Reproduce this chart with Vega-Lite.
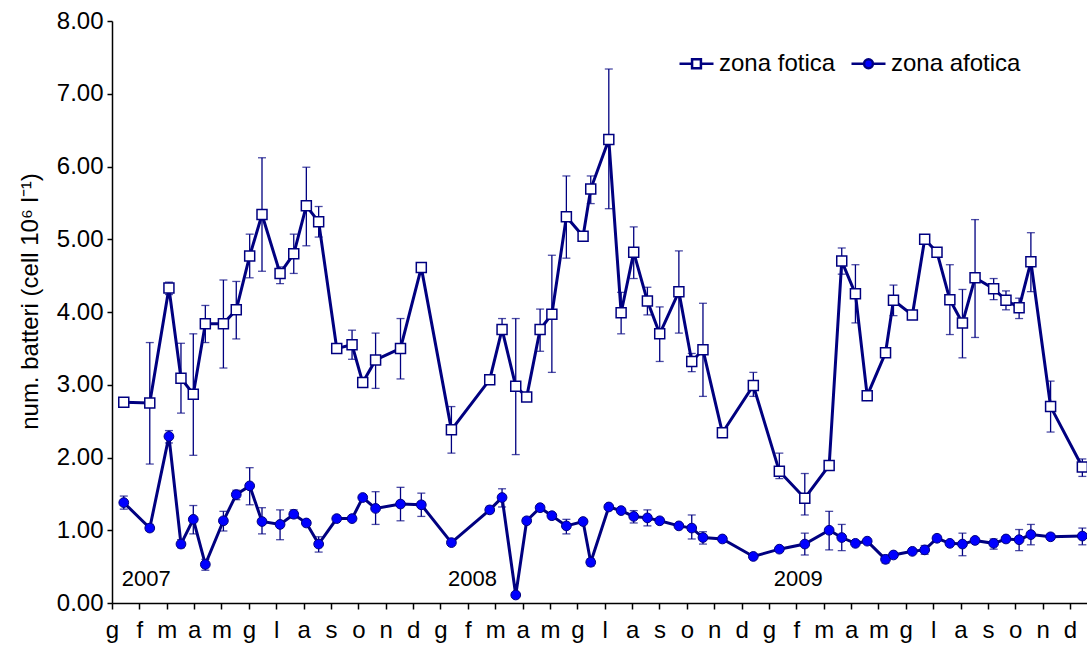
{
  "$schema": "https://vega.github.io/schema/vega-lite/v6.json",
  "autosize": {"type": "none"},
  "padding": {"left": 112, "top": 21, "right": 0, "bottom": 42},
  "width": 975,
  "height": 582,
  "background": "white",
  "config": {
    "font": "Liberation Sans",
    "view": {"stroke": null},
    "axis": {"grid": false, "domainColor": "black", "domainWidth": 1.5, "tickColor": "black", "tickWidth": 1.5, "labelColor": "black", "labelFontSize": 24, "titleColor": "black", "titleFontWeight": "normal", "titleFontSize": 24, "labelFont": "Liberation Sans", "titleFont": "Liberation Sans"}
  },
  "datasets": {
    "punti": [
      {"zona": "zona fotica", "mese": 0.43, "valore": 2.76},
      {"zona": "zona fotica", "mese": 1.38, "valore": 2.75, "min": 1.91, "max": 3.58},
      {"zona": "zona fotica", "mese": 2.08, "valore": 4.33, "min": 4.24, "max": 4.41},
      {"zona": "zona fotica", "mese": 2.52, "valore": 3.09, "min": 2.61, "max": 3.57},
      {"zona": "zona fotica", "mese": 2.97, "valore": 2.87, "min": 2.03, "max": 3.70},
      {"zona": "zona fotica", "mese": 3.41, "valore": 3.84, "min": 3.58, "max": 4.09},
      {"zona": "zona fotica", "mese": 4.07, "valore": 3.84, "min": 3.23, "max": 4.44},
      {"zona": "zona fotica", "mese": 4.54, "valore": 4.03, "min": 3.63, "max": 4.42},
      {"zona": "zona fotica", "mese": 5.03, "valore": 4.77, "min": 4.47, "max": 5.07},
      {"zona": "zona fotica", "mese": 5.48, "valore": 5.34, "min": 4.56, "max": 6.12},
      {"zona": "zona fotica", "mese": 6.14, "valore": 4.53, "min": 4.39, "max": 4.62},
      {"zona": "zona fotica", "mese": 6.64, "valore": 4.80, "min": 4.53, "max": 5.07},
      {"zona": "zona fotica", "mese": 7.10, "valore": 5.46, "min": 4.91, "max": 5.99},
      {"zona": "zona fotica", "mese": 7.55, "valore": 5.24, "min": 5.03, "max": 5.45},
      {"zona": "zona fotica", "mese": 8.21, "valore": 3.50, "min": 3.46, "max": 3.54},
      {"zona": "zona fotica", "mese": 8.77, "valore": 3.55, "min": 3.35, "max": 3.75},
      {"zona": "zona fotica", "mese": 9.16, "valore": 3.03},
      {"zona": "zona fotica", "mese": 9.63, "valore": 3.34, "min": 2.95, "max": 3.71},
      {"zona": "zona fotica", "mese": 10.54, "valore": 3.50, "min": 3.08, "max": 3.91},
      {"zona": "zona fotica", "mese": 11.30, "valore": 4.61},
      {"zona": "zona fotica", "mese": 12.40, "valore": 2.38, "min": 2.06, "max": 2.70},
      {"zona": "zona fotica", "mese": 13.80, "valore": 3.07, "min": 3.03, "max": 3.11},
      {"zona": "zona fotica", "mese": 14.25, "valore": 3.76, "min": 3.72, "max": 3.91},
      {"zona": "zona fotica", "mese": 14.75, "valore": 2.98, "min": 2.04, "max": 3.91},
      {"zona": "zona fotica", "mese": 15.15, "valore": 2.83},
      {"zona": "zona fotica", "mese": 15.64, "valore": 3.76, "min": 3.46, "max": 4.04},
      {"zona": "zona fotica", "mese": 16.07, "valore": 3.97, "min": 3.17, "max": 4.78},
      {"zona": "zona fotica", "mese": 16.60, "valore": 5.31, "min": 4.74, "max": 5.87},
      {"zona": "zona fotica", "mese": 17.21, "valore": 5.04},
      {"zona": "zona fotica", "mese": 17.49, "valore": 5.69, "min": 5.49, "max": 5.87},
      {"zona": "zona fotica", "mese": 18.15, "valore": 6.37, "min": 5.42, "max": 7.34},
      {"zona": "zona fotica", "mese": 18.60, "valore": 3.99, "min": 3.70, "max": 4.27},
      {"zona": "zona fotica", "mese": 19.06, "valore": 4.82, "min": 4.46, "max": 5.17},
      {"zona": "zona fotica", "mese": 19.56, "valore": 4.15, "min": 3.96, "max": 4.34},
      {"zona": "zona fotica", "mese": 20.01, "valore": 3.70, "min": 3.32, "max": 4.07},
      {"zona": "zona fotica", "mese": 20.71, "valore": 4.28, "min": 3.71, "max": 4.84},
      {"zona": "zona fotica", "mese": 21.18, "valore": 3.32, "min": 3.18, "max": 3.43},
      {"zona": "zona fotica", "mese": 21.59, "valore": 3.48, "min": 2.84, "max": 4.12},
      {"zona": "zona fotica", "mese": 22.30, "valore": 2.34, "min": 2.30, "max": 2.38},
      {"zona": "zona fotica", "mese": 23.43, "valore": 2.99, "min": 2.84, "max": 3.17},
      {"zona": "zona fotica", "mese": 24.38, "valore": 1.81, "min": 1.71, "max": 2.06},
      {"zona": "zona fotica", "mese": 25.31, "valore": 1.44, "min": 1.21, "max": 1.78},
      {"zona": "zona fotica", "mese": 26.20, "valore": 1.89},
      {"zona": "zona fotica", "mese": 26.66, "valore": 4.70, "min": 4.52, "max": 4.88},
      {"zona": "zona fotica", "mese": 27.16, "valore": 4.25, "min": 3.85, "max": 4.65},
      {"zona": "zona fotica", "mese": 27.59, "valore": 2.85, "min": 2.81, "max": 2.89},
      {"zona": "zona fotica", "mese": 28.26, "valore": 3.44},
      {"zona": "zona fotica", "mese": 28.55, "valore": 4.16, "min": 3.95, "max": 4.37},
      {"zona": "zona fotica", "mese": 29.24, "valore": 3.96, "min": 3.91, "max": 4.01},
      {"zona": "zona fotica", "mese": 29.69, "valore": 5.00},
      {"zona": "zona fotica", "mese": 30.14, "valore": 4.82},
      {"zona": "zona fotica", "mese": 30.61, "valore": 4.17, "min": 3.69, "max": 4.65},
      {"zona": "zona fotica", "mese": 31.07, "valore": 3.85, "min": 3.37, "max": 4.31},
      {"zona": "zona fotica", "mese": 31.53, "valore": 4.47, "min": 3.65, "max": 5.27},
      {"zona": "zona fotica", "mese": 32.21, "valore": 4.32, "min": 4.17, "max": 4.46},
      {"zona": "zona fotica", "mese": 32.66, "valore": 4.16, "min": 4.03, "max": 4.29},
      {"zona": "zona fotica", "mese": 33.14, "valore": 4.06, "min": 3.91, "max": 4.19},
      {"zona": "zona fotica", "mese": 33.57, "valore": 4.69, "min": 4.28, "max": 5.09},
      {"zona": "zona fotica", "mese": 34.29, "valore": 2.70, "min": 2.35, "max": 3.05},
      {"zona": "zona fotica", "mese": 35.45, "valore": 1.87, "min": 1.74, "max": 1.98},
      {"zona": "zona afotica", "mese": 0.43, "valore": 1.38, "min": 1.29, "max": 1.47},
      {"zona": "zona afotica", "mese": 1.38, "valore": 1.03, "min": 0.99, "max": 1.08},
      {"zona": "zona afotica", "mese": 2.08, "valore": 2.29, "min": 2.20, "max": 2.37},
      {"zona": "zona afotica", "mese": 2.52, "valore": 0.81, "min": 0.76, "max": 0.87},
      {"zona": "zona afotica", "mese": 2.97, "valore": 1.15, "min": 0.95, "max": 1.34},
      {"zona": "zona afotica", "mese": 3.41, "valore": 0.53, "min": 0.45, "max": 0.60},
      {"zona": "zona afotica", "mese": 4.07, "valore": 1.13, "min": 0.99, "max": 1.26},
      {"zona": "zona afotica", "mese": 4.54, "valore": 1.49, "min": 1.42, "max": 1.55},
      {"zona": "zona afotica", "mese": 5.03, "valore": 1.61, "min": 1.35, "max": 1.86},
      {"zona": "zona afotica", "mese": 5.48, "valore": 1.12, "min": 0.95, "max": 1.31},
      {"zona": "zona afotica", "mese": 6.14, "valore": 1.08, "min": 0.87, "max": 1.28},
      {"zona": "zona afotica", "mese": 6.64, "valore": 1.22, "min": 1.17, "max": 1.28},
      {"zona": "zona afotica", "mese": 7.10, "valore": 1.10},
      {"zona": "zona afotica", "mese": 7.55, "valore": 0.81, "min": 0.70, "max": 0.91},
      {"zona": "zona afotica", "mese": 8.21, "valore": 1.16},
      {"zona": "zona afotica", "mese": 8.77, "valore": 1.16},
      {"zona": "zona afotica", "mese": 9.16, "valore": 1.45},
      {"zona": "zona afotica", "mese": 9.63, "valore": 1.30, "min": 1.08, "max": 1.53},
      {"zona": "zona afotica", "mese": 10.54, "valore": 1.36, "min": 1.13, "max": 1.59},
      {"zona": "zona afotica", "mese": 11.30, "valore": 1.35, "min": 1.19, "max": 1.51},
      {"zona": "zona afotica", "mese": 12.40, "valore": 0.83},
      {"zona": "zona afotica", "mese": 13.80, "valore": 1.28, "min": 1.24, "max": 1.33},
      {"zona": "zona afotica", "mese": 14.25, "valore": 1.45, "min": 1.32, "max": 1.57},
      {"zona": "zona afotica", "mese": 14.75, "valore": 0.11},
      {"zona": "zona afotica", "mese": 15.15, "valore": 1.13},
      {"zona": "zona afotica", "mese": 15.64, "valore": 1.31},
      {"zona": "zona afotica", "mese": 16.07, "valore": 1.20},
      {"zona": "zona afotica", "mese": 16.60, "valore": 1.06, "min": 0.95, "max": 1.15},
      {"zona": "zona afotica", "mese": 17.21, "valore": 1.12},
      {"zona": "zona afotica", "mese": 17.49, "valore": 0.56, "min": 0.51, "max": 0.61},
      {"zona": "zona afotica", "mese": 18.15, "valore": 1.32},
      {"zona": "zona afotica", "mese": 18.60, "valore": 1.27},
      {"zona": "zona afotica", "mese": 19.06, "valore": 1.19, "min": 1.10, "max": 1.27},
      {"zona": "zona afotica", "mese": 19.56, "valore": 1.17, "min": 1.06, "max": 1.28},
      {"zona": "zona afotica", "mese": 20.01, "valore": 1.13},
      {"zona": "zona afotica", "mese": 20.71, "valore": 1.06},
      {"zona": "zona afotica", "mese": 21.18, "valore": 1.03, "min": 0.88, "max": 1.21},
      {"zona": "zona afotica", "mese": 21.59, "valore": 0.90, "min": 0.81, "max": 0.98},
      {"zona": "zona afotica", "mese": 22.30, "valore": 0.88},
      {"zona": "zona afotica", "mese": 23.43, "valore": 0.64},
      {"zona": "zona afotica", "mese": 24.38, "valore": 0.74},
      {"zona": "zona afotica", "mese": 25.31, "valore": 0.81, "min": 0.66, "max": 0.96},
      {"zona": "zona afotica", "mese": 26.20, "valore": 1.00, "min": 0.73, "max": 1.26},
      {"zona": "zona afotica", "mese": 26.66, "valore": 0.90, "min": 0.72, "max": 1.08},
      {"zona": "zona afotica", "mese": 27.16, "valore": 0.82},
      {"zona": "zona afotica", "mese": 27.59, "valore": 0.85},
      {"zona": "zona afotica", "mese": 28.26, "valore": 0.60, "min": 0.55, "max": 0.66},
      {"zona": "zona afotica", "mese": 28.55, "valore": 0.66},
      {"zona": "zona afotica", "mese": 29.24, "valore": 0.71},
      {"zona": "zona afotica", "mese": 29.69, "valore": 0.73, "min": 0.67, "max": 0.79},
      {"zona": "zona afotica", "mese": 30.14, "valore": 0.89},
      {"zona": "zona afotica", "mese": 30.61, "valore": 0.82},
      {"zona": "zona afotica", "mese": 31.07, "valore": 0.81, "min": 0.65, "max": 0.96},
      {"zona": "zona afotica", "mese": 31.53, "valore": 0.86},
      {"zona": "zona afotica", "mese": 32.21, "valore": 0.82, "min": 0.74, "max": 0.88},
      {"zona": "zona afotica", "mese": 32.66, "valore": 0.88},
      {"zona": "zona afotica", "mese": 33.14, "valore": 0.87, "min": 0.72, "max": 1.01},
      {"zona": "zona afotica", "mese": 33.57, "valore": 0.94, "min": 0.80, "max": 1.08},
      {"zona": "zona afotica", "mese": 34.29, "valore": 0.91},
      {"zona": "zona afotica", "mese": 35.45, "valore": 0.92, "min": 0.80, "max": 1.03}
    ],
    "anni": [
      {"anno": "2007", "mese": 1.25, "valore": 0.33},
      {"anno": "2008", "mese": 13.17, "valore": 0.33},
      {"anno": "2009", "mese": 25.07, "valore": 0.33}
    ]
  },
  "data": {"name": "punti"},
  "encoding": {
    "x": {
      "field": "mese", "type": "quantitative",
      "scale": {"domain": [0, 35.62], "nice": false, "zero": false},
      "axis": {
        "title": null,
        "values": [0,1,2,3,4,5,6,7,8,9,10,11,12,13,14,15,16,17,18,19,20,21,22,23,24,25,26,27,28,29,30,31,32,33,34,35],
        "labelExpr": "['g','f','m','a','m','g','l','a','s','o','n','d'][datum.value % 12]",
        "tickSize": 6, "labelPadding": 9, "labelFlush": false, "labelOverlap": false
      }
    },
    "y": {
      "field": "valore", "type": "quantitative",
      "scale": {"domain": [0, 8], "nice": false},
      "axis": {
        "title": "num. batteri (cell 10⁶ l⁻¹)",
        "values": [0,1,2,3,4,5,6,7,8],
        "format": ".2f",
        "tickSize": 5, "labelPadding": 4, "titlePadding": 14, "titleY": 280
      }
    }
  },
  "layer": [
    {
      "transform": [{"filter": "isValid(datum.min)"}],
      "mark": {"type": "rule", "color": "#000080", "strokeWidth": 1.3},
      "encoding": {"y": {"field": "min", "type": "quantitative"}, "y2": {"field": "max"}}
    },
    {
      "transform": [{"filter": "isValid(datum.min)"}],
      "mark": {"type": "tick", "orient": "horizontal", "color": "#000080", "size": 8, "thickness": 1.3},
      "encoding": {"y": {"field": "min", "type": "quantitative"}}
    },
    {
      "transform": [{"filter": "isValid(datum.max)"}],
      "mark": {"type": "tick", "orient": "horizontal", "color": "#000080", "size": 8, "thickness": 1.3},
      "encoding": {"y": {"field": "max", "type": "quantitative"}}
    },
    {
      "mark": {"type": "line", "color": "#000080", "strokeWidth": 3},
      "encoding": {"detail": {"field": "zona"}}
    },
    {
      "transform": [{"filter": "datum.zona == 'zona fotica'"}],
      "mark": {"type": "point", "shape": "square", "size": 100, "filled": true, "fill": "white", "stroke": "#000080", "strokeWidth": 1.5, "opacity": 1}
    },
    {
      "transform": [{"filter": "datum.zona == 'zona afotica'"}],
      "mark": {"type": "point", "shape": "circle", "size": 95, "filled": true, "fill": "#0000FF", "stroke": "#000080", "strokeWidth": 1, "opacity": 1}
    },
    {
      "mark": {"type": "point", "filled": true, "opacity": 0, "strokeWidth": 2},
      "encoding": {
        "shape": {
          "field": "zona", "type": "nominal",
          "scale": {"domain": ["zona fotica", "zona afotica"], "range": ["M-1,0H-0.26M0.26,0H1M-0.26,-0.26H0.26V0.26H-0.26Z", "M-1,0H-0.26M0.26,0H1M-0.26,0A0.26,0.26,0,1,0,0.26,0A0.26,0.26,0,1,0,-0.26,0Z"]},
          "legend": {"title": null, "orient": "none", "legendX": 566, "legendY": 24, "direction": "horizontal", "symbolSize": 1156, "symbolOpacity": 1, "symbolStrokeWidth": 2.5, "labelFontSize": 24, "labelColor": "black", "labelOffset": 4, "columnPadding": 10, "padding": 0, "labelFont": "Liberation Sans"}
        },
        "fill": {
          "field": "zona", "type": "nominal",
          "scale": {"domain": ["zona fotica", "zona afotica"], "range": ["white", "#0000FF"]},
          "legend": {"title": null, "orient": "none", "legendX": 566, "legendY": 24, "direction": "horizontal", "symbolSize": 1156, "symbolOpacity": 1, "symbolStrokeWidth": 2.5, "labelFontSize": 24, "labelColor": "black", "labelOffset": 4, "columnPadding": 10, "padding": 0, "labelFont": "Liberation Sans"}
        },
        "stroke": {
          "field": "zona", "type": "nominal",
          "scale": {"domain": ["zona fotica", "zona afotica"], "range": ["#000080", "#000080"]},
          "legend": {"title": null, "orient": "none", "legendX": 566, "legendY": 24, "direction": "horizontal", "symbolSize": 1156, "symbolOpacity": 1, "symbolStrokeWidth": 2.5, "labelFontSize": 24, "labelColor": "black", "labelOffset": 4, "columnPadding": 10, "padding": 0, "labelFont": "Liberation Sans"}
        }
      }
    },
    {
      "data": {"name": "anni"},
      "mark": {"type": "text", "fontSize": 22, "color": "black", "font": "Liberation Sans"},
      "encoding": {"text": {"field": "anno"}}
    }
  ]
}
